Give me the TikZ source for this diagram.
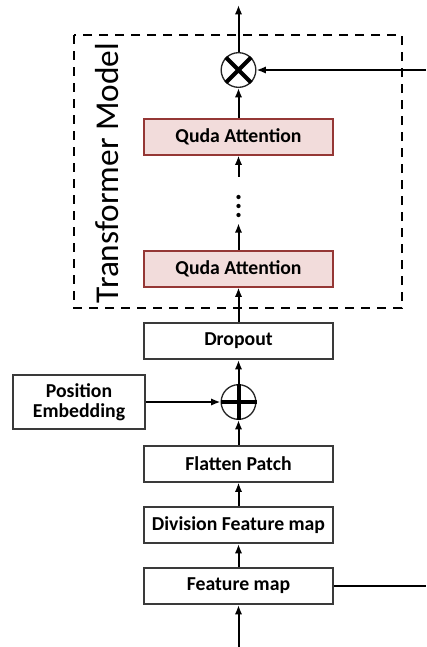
\documentclass[tikz,border=0pt]{standalone}
\usepackage{fontspec}
\setmainfont{Carlito}
\usetikzlibrary{arrows.meta}
\definecolor{boxline}{HTML}{3A3A3A}
\definecolor{attfill}{HTML}{F2DCDB}
\definecolor{attline}{HTML}{953735}
\tikzset{
  stepbox/.style={draw=boxline, line width=1.5pt, fill=white, minimum width=142pt,
    minimum height=27pt, inner sep=0pt, font=\fontsize{14.8}{16}\selectfont\bfseries},
  attbox/.style={stepbox, draw=attline, fill=attfill},
  flow/.style={line width=1.5pt, -{Latex[length=7pt,width=5.5pt]}},
  opcircle/.style={circle, draw=black!85, line width=1pt, minimum size=26pt, inner sep=0pt}
}
\begin{document}
\begin{tikzpicture}[x=0.75pt, y=-0.75pt]
  \useasboundingbox (0,0) rectangle (426,647);
  % transformer frame
  \draw[line width=1pt, dash pattern=on 7pt off 5pt] (74,35) rectangle (402,308);
  \node[rotate=90, font=\fontsize{25}{28}\selectfont] (title) at (107,173) {Transformer Model};
  % nodes
  \node[stepbox] (fmap) at (238.5,586) {Feature map};
  \node[stepbox] (div) at (238.5,525) {Division Feature map};
  \node[stepbox] (flat) at (238.5,463.5) {Flatten Patch};
  \node[opcircle] (plus) at (238.5,402) {};
  \draw[line width=3pt] (plus.north) -- (plus.south) (plus.west) -- (plus.east);
  \node[stepbox, minimum width=99pt, minimum height=40pt, align=center] (pos) at (79,402) {Position\\[-1pt]Embedding};
  \node[stepbox] (drop) at (238.5,341) {Dropout};
  \node[attbox] (att1) at (238.5,268.5) {Quda Attention};
  % repeated layers, shown as a column of dots
  \node[minimum width=6pt, minimum height=34.5pt, inner sep=0pt] (dots) at (238.5,200) {};
  \foreach \dy in {-3,6,15}
    \fill ([yshift=-\dy*0.75pt]dots.center) circle (1.6pt);
  \node[attbox] (att2) at (238.5,136.5) {Quda Attention};
  \node[opcircle] (mult) at (238.5,70) {};
  \draw[line width=3pt] (mult.north east) -- (mult.south west) (mult.north west) -- (mult.south east);
  % free ends
  \coordinate (in) at (238.5,647);
  \coordinate (out) at (238.5,5);
  \coordinate (side) at (426,70);
  \coordinate (fmapr) at (426,586);
  % connectors
  \draw[flow] (in) -- (fmap);
  \draw[flow] (fmap) -- (div);
  \draw[flow] (div) -- (flat);
  \draw[flow] (flat) -- (plus);
  \draw[flow] (pos) -- (plus);
  \draw[flow] (plus) -- (drop);
  \draw[flow] (drop) -- (att1);
  \draw[flow] (att1) -- (dots);
  \draw[flow] (dots) -- (att2);
  \draw[flow] (att2) -- (mult);
  \draw[flow] (mult) -- (out);
  \draw[flow] (side) -- (mult);
  \draw[line width=1.5pt] (fmap) -- (fmapr);
\end{tikzpicture}
\end{document}
